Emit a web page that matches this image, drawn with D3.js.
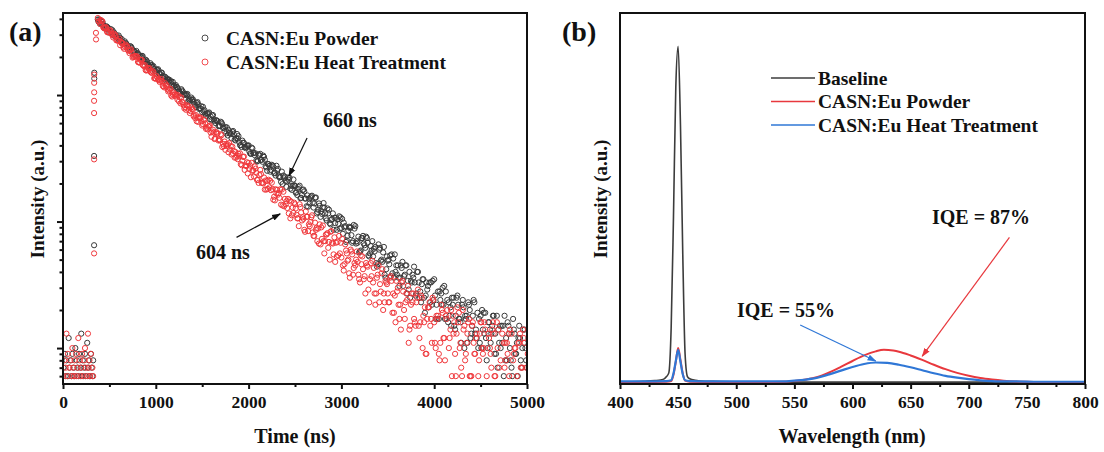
<!DOCTYPE html>
<html lang="en">
<head>
<meta charset="utf-8">
<script src="https://cdn.jsdelivr.net/npm/d3@7"></script>
<style>
  body { margin: 0; background: #fff; }
  text { font-family: "Liberation Serif", "Times New Roman", serif; font-weight: bold; fill: #111; }
</style>
</head>
<body>
<script>

// ---- panel (a): decay curves, counts per channel ----
var preStart = 5, preStep = 8;          // background channels before the pulse
var decayStart = 375, decayStep = 25;   // first decay channel and channel spacing (ns)
var passOffsets = [0, 8, 16];           // three interleaved channel sets

var powderPre = [7,5,9,6,8,4,6,12,7,5,8,6,9,3,7,6,10,5,8,7,6,9,5,7,13,6,8,4,7,9,6,5,11,7,8,6,5,9,7,6,8];
var heatPre   = [6,8,5,7,13,6,9,4,7,8,5,6,10,7,6,8,5,9,6,7,12,5,8,6,7,9,4,6,8,10,7,5,6,13,7,8,6,9,5,7,6];

// rising edge, [time ns, counts]
var powderRise = [[335,65],[335,330],[337,1500],[337,1350]];
var heatRise = [[335,56],[335,310],[336,1450],[336,1250],[336,1050],[335,900],[335,720],[355,3100],[356,2750]];

var powderDecay1 = [3952,3653,3774,3471,3460,3112,3162,3122,2863,2955,2687,2529,2576,2433,2431,2209,2189,
  2136,1975,2041,1878,1872,1684,1710,1689,1549,1599,1453,1368,1394,1318,1315,1195,1185,
  1159,1063,1111,1014,1021,897,927,924,832,879,784,732,759,712,728,636,642,
  632,568,615,548,558,479,505,511,445,492,423,388,418,387,400,342,349,
  346,302,343,297,308,252,276,281,241,276,228,206,231,210,223,182,191,
  191,162,192,162,173,132,152,158,129,155,124,109,129,116,127,97,105,
  107,86,110,89,98,69,85,90,70,92,68,58,74,65,74,53,59,
  61,47,66,49,57,36,49,54,39,55,38,31,43,37,45,29,34,
  36,26,40,28,35,19,29,33,22,35,22,17,27,22,28,16,21,
  22,14,26,17,22,10,18,22,13,24,14,10,18,14,19,10,14,
  15,9,18,11,15,6,12,15,8,17,9,6,12,10,14,7];
var powderDecay2 = [3796,3862,3607,3333,3415,3207,3252,2929,2921,2700,2766,2566,2543,2373,2413,2254,2082,
  2134,2004,2031,1831,1826,1687,1728,1604,1589,1484,1508,1409,1302,1334,1252,1271,1145,
  1144,1049,1085,1001,999,921,955,883,803,841,783,807,711,717,645,689,623,
  629,574,605,553,497,531,490,520,438,453,401,436,389,397,358,384,348,
  304,338,307,332,273,285,248,276,243,253,223,248,220,188,214,192,215,
  169,181,153,177,152,161,139,160,139,116,139,121,140,106,116,95,116,
  97,104,88,105,90,71,91,78,94,67,76,59,77,62,68,56,70,
  58,44,60,50,63,42,50,37,51,40,45,36,48,38,27,40,33,
  44,27,33,23,35,26,31,23,34,26,17,28,22,31,17,23,15,
  25,18,22,16,24,18,11,20,15,23,12,17,10,19,12,16,11,
  18,13,7,15,11,18,8,13,7,14,9,12,8,14,10,5];
var powderDecay3 = [3953,3658,3410,3495,3311,3319,2997,3006,2814,2830,2586,2656,2457,2291,2348,2225,2229,
  2013,2019,1890,1902,1737,1785,1651,1540,1578,1495,1498,1353,1358,1271,1278,1167,1199,
  1108,1027,1064,1005,1019,901,916,849,866,777,815,745,685,718,676,695,601,
  620,568,588,518,555,500,456,489,456,474,401,420,381,399,346,378,335,
  298,332,308,324,268,284,256,272,231,261,225,198,226,208,222,178,194,
  170,187,154,179,152,131,155,141,154,119,133,115,129,102,124,103,86,
  107,96,108,80,92,77,89,68,88,70,57,74,67,76,54,64,53,
  63,46,62,48,38,53,46,55,36,45,36,45,31,45,34,25,38,
  33,40,25,32,25,33,21,33,24,17,28,24,30,17,24,18,25,
  15,25,17,11,21,17,23,12,18,13,19,11,20,13,8,16,13,
  18,9,14,10,15,8,16,10,6,13,11,15,7,11,8,12];

var heatDecay1 = [4062,3643,3826,3396,3152,3253,3037,3054,2705,2693,2625,2380,2503,2256,2261,1976,2033,
  2013,1805,1896,1683,1562,1613,1505,1514,1341,1335,1301,1180,1241,1118,1126,973,1010,
  1007,891,955,832,765,807,746,765,656,663,652,574,634,552,568,468,505,
  510,437,490,411,369,408,371,391,320,331,329,279,326,274,290,224,254,
  262,214,256,203,179,209,186,203,157,167,168,136,172,137,151,106,129,
  137,106,137,102,86,109,95,108,77,86,88,66,93,70,81,50,68,
  75,53,77,52,41,59,50,60,38,45,48,33,53,37,45,23,37,
  43,27,45,28,20,34,27,36,19,26,28,17,33,20,27,11,22,
  27,15,29,16,10,21,17,23,11,16,18,9,22,12,18,5,14,
  18,9,21,10,6,15,11,17,6,11,12,6,16,9,14,3,10,
  14,6,16,7,4,11,8,13,5,8,10,4,13,7,11,2];
var heatDecay2 = [3824,3921,3436,3447,3124,3249,2961,2945,2704,2786,2560,2320,2414,2235,2293,2009,2015,
  1827,1899,1731,1722,1581,1630,1497,1357,1411,1307,1340,1174,1179,1068,1116,1009,1012,
  921,963,877,784,831,764,800,679,694,613,663,589,597,535,575,515,449,
  494,447,481,394,410,353,394,343,355,311,346,303,256,294,261,291,227,
  243,202,237,200,211,181,210,181,147,178,154,179,132,145,116,144,117,
  127,106,130,108,83,109,92,112,77,89,67,90,70,79,62,83,67,
  48,69,56,73,46,56,39,58,43,50,38,54,42,27,44,35,49,
  27,36,23,39,27,33,23,37,27,16,30,22,34,17,24,14,27,
  17,23,15,26,18,9,21,15,25,11,17,8,20,12,17,10,20,
  13,6,16,11,20,8,13,6,15,9,13,8,16,10,4,13,9,
  16,6,10,4,13,7,11,6,13,9,3,11,7,14,5,9];
var heatDecay3 = [3804,3841,3377,3415,3148,3193,2851,2974,2700,2476,2577,2415,2437,2144,2168,1998,2028,
  1810,1889,1715,1572,1637,1534,1548,1362,1376,1269,1288,1149,1200,1089,992,1045,975,
  994,859,878,802,825,721,774,689,620,668,620,641,540,562,505,532,453,
  500,438,388,429,395,417,339,361,320,343,284,324,278,240,277,252,273,
  213,233,202,223,179,214,177,149,180,163,180,134,151,128,147,112,141,
  113,92,118,105,120,84,99,82,98,70,95,73,56,79,69,84,55,
  68,54,68,45,66,49,36,55,47,58,35,46,35,47,29,47,33,
  22,38,32,42,23,32,23,34,19,34,22,14,28,23,31,15,23,
  16,25,12,25,16,9,21,17,24,10,18,11,19,8,20,12,6,
  16,13,19,7,14,9,16,6,16,9,4,13,10,16,6,12,7,
  13,5,14,8,3,11,9,14,5,10,6,11,4,12,7,2];

var timeTicks = [0,1000,2000,3000,4000,5000];

// ---- panel (b): PL spectra ----
var baselineWl = [400,410,420,430,435,438,440,442,444,446,448,450,452,454,456,458,460,465,470,480,500,550,600,650,700,750,800];
var baselineI  = [0.006,0.006,0.007,0.009,0.011,0.014,0.02,0.03,0.15,0.45,0.8,0.91,0.7,0.35,0.08,0.02,0.014,0.01,0.008,0.007,0.006,0.005,0.005,0.005,0.005,0.005,0.005];

var powderWl = [400,420,440,444,446,448,450,452,454,456,460,480,500,520,540,550,560,570,580,590,600,610,620,627,635,640,650,660,670,680,690,700,710,720,730,740,750,770,800];
var powderI  = [0.005,0.005,0.006,0.008,0.025,0.06,0.097,0.065,0.028,0.009,0.006,0.005,0.005,0.005,0.006,0.008,0.012,0.019,0.031,0.046,0.062,0.077,0.088,0.092,0.09,0.087,0.077,0.065,0.052,0.04,0.03,0.022,0.016,0.012,0.009,0.007,0.006,0.005,0.005];

var heatWl = [400,420,440,444,446,448,450,452,454,456,460,480,500,520,540,550,560,570,580,590,600,610,620,630,640,650,660,670,680,690,700,710,720,730,740,760,800];
var heatI  = [0.007,0.007,0.008,0.01,0.028,0.062,0.092,0.06,0.026,0.01,0.008,0.007,0.007,0.007,0.007,0.009,0.012,0.017,0.026,0.036,0.046,0.054,0.058,0.057,0.052,0.045,0.037,0.029,0.022,0.017,0.013,0.01,0.008,0.007,0.007,0.006,0.006];

var wlTicks = [400,450,500,550,600,650,700,750,800];

var width = 1104, height = 452;

var svg = d3.select("body").append("svg")
    .attr("width", width)
    .attr("height", height);

var defs = svg.append("defs");
function marker(id, color) {
  defs.append("marker")
      .attr("id", id)
      .attr("viewBox", "0 0 10 10")
      .attr("refX", 9).attr("refY", 5)
      .attr("markerWidth", 9).attr("markerHeight", 9)
      .attr("markerUnits", "userSpaceOnUse")
      .attr("orient", "auto")
    .append("path")
      .attr("d", "M0,1.5L10,5L0,8.5Z")
      .attr("fill", color);
}
marker("arrBlack", "#111");
marker("arrRed", "#e8383d");
marker("arrBlue", "#2f77d6");

// ================= panel (a) =================
var xA = d3.scaleLinear().domain([0, 5000]).range([63, 527]);
var yA = d3.scaleLog().domain([5.2, 4450]).range([384, 13]);

defs.append("clipPath").attr("id", "clipA")
  .append("rect").attr("x", 63).attr("y", 13).attr("width", 464).attr("height", 371);

function series(pre, rise, passes) {
  var pts = pre.map(function(v, i) { return [preStart + i * preStep, v]; }).concat(rise);
  passes.forEach(function(arr, k) {
    arr.forEach(function(v, i) { pts.push([decayStart + passOffsets[k] + i * decayStep, v]); });
  });
  return pts.filter(function(d) { return d[1] > 0; });
}

var gA = svg.append("g");
var dots = gA.append("g").attr("clip-path", "url(#clipA)");

dots.selectAll("circle.p")
    .data(series(powderPre, powderRise, [powderDecay1, powderDecay2, powderDecay3]))
  .enter().append("circle")
    .attr("class", "p")
    .attr("cx", function(d) { return xA(d[0]); })
    .attr("cy", function(d) { return yA(d[1]); })
    .attr("r", 2.6)
    .attr("fill", "none")
    .attr("stroke", "#3a3a3a")
    .attr("stroke-width", 1);

dots.selectAll("circle.h")
    .data(series(heatPre, heatRise, [heatDecay1, heatDecay2, heatDecay3]))
  .enter().append("circle")
    .attr("class", "h")
    .attr("cx", function(d) { return xA(d[0]); })
    .attr("cy", function(d) { return yA(d[1]); })
    .attr("r", 2.6)
    .attr("fill", "none")
    .attr("stroke", "#f0383c")
    .attr("stroke-width", 1);

// x axis
var axA = gA.append("g").attr("transform", "translate(0,384)");
axA.call(d3.axisBottom(xA).tickValues(timeTicks).tickSize(5).tickPadding(7).tickFormat(d3.format("d")));
axA.append("g").call(d3.axisBottom(xA).tickValues([500,1500,2500,3500,4500]).tickSize(3).tickFormat(""));
axA.selectAll("path").remove();
axA.selectAll("line").attr("stroke", "#111").attr("stroke-width", 2);
axA.selectAll("text").attr("font-size", 17.5).attr("fill", "#111")
   .style("font-family", "Liberation Serif").style("font-weight", "bold");

// log y axis, no labels
var yMajor = [10, 100, 1000];
var yMinor = [];
[1, 10, 100, 1000].forEach(function(dec) {
  for (var m = 2; m <= 9; m++) {
    var v = dec * m;
    if (v > 5.2 && v < 4450) yMinor.push(v);
  }
});
var ayA = gA.append("g").attr("transform", "translate(63,0)");
ayA.call(d3.axisLeft(yA).tickValues(yMajor).tickSize(6).tickFormat(""));
ayA.append("g").call(d3.axisLeft(yA).tickValues(yMinor).tickSize(3.5).tickFormat(""));
ayA.selectAll("path").remove();
ayA.selectAll("line").attr("stroke", "#111").attr("stroke-width", 2);

gA.append("rect")
    .attr("x", 63).attr("y", 13).attr("width", 464).attr("height", 371)
    .attr("fill", "none").attr("stroke", "#111").attr("stroke-width", 2);

gA.append("text").attr("x", 295).attr("y", 443).attr("text-anchor", "middle")
    .attr("font-size", 20).text("Time (ns)");
gA.append("text").attr("transform", "translate(44,199) rotate(-90)").attr("text-anchor", "middle")
    .attr("font-size", 19).text("Intensity (a.u.)");
gA.append("text").attr("x", 9).attr("y", 41).attr("font-size", 28).text("(a)");

// legend (a)
var legA = gA.append("g");
[["CASN:Eu Powder", "#3a3a3a", 38], ["CASN:Eu Heat Treatment", "#f0383c", 62]].forEach(function(d) {
  legA.append("circle").attr("cx", 205).attr("cy", d[2]).attr("r", 3)
      .attr("fill", "none").attr("stroke", d[1]).attr("stroke-width", 0.9);
  legA.append("text").attr("x", 226).attr("y", d[2] + 6.5).attr("font-size", 19.5).text(d[0]);
});

// lifetime annotations
gA.append("text").attr("x", 323).attr("y", 127).attr("font-size", 20).text("660 ns");
gA.append("line")
    .attr("x1", xA(2630)).attr("y1", yA(458)).attr("x2", xA(2435)).attr("y2", yA(229))
    .attr("stroke", "#111").attr("stroke-width", 1.2).attr("marker-end", "url(#arrBlack)");
gA.append("text").attr("x", 196).attr("y", 259).attr("font-size", 20).text("604 ns");
gA.append("line")
    .attr("x1", xA(1870)).attr("y1", yA(75)).attr("x2", xA(2340)).attr("y2", yA(115))
    .attr("stroke", "#111").attr("stroke-width", 1.2).attr("marker-end", "url(#arrBlack)");

// ================= panel (b) =================
var xB = d3.scaleLinear().domain([400, 800]).range([620, 1085]);
var yB = d3.scaleLinear().domain([0, 1]).range([384, 13]);

var gB = svg.append("g");

var line = d3.line()
    .x(function(d) { return xB(d[0]); })
    .y(function(d) { return yB(d[1]); })
    .curve(d3.curveMonotoneX);

function pairs(wl, vals) { return wl.map(function(w, i) { return [w, vals[i]]; }); }

var specs = [
  { name: "Baseline", wl: baselineWl, v: baselineI, color: "#3c3c3c", w: 1.6 },
  { name: "CASN:Eu Powder", wl: powderWl, v: powderI, color: "#e8383d", w: 2 },
  { name: "CASN:Eu Heat Treatment", wl: heatWl, v: heatI, color: "#2f77d6", w: 2.2 }
];

gB.selectAll("path.spec")
    .data(specs)
  .enter().append("path")
    .attr("class", "spec")
    .attr("d", function(d) { return line(pairs(d.wl, d.v)); })
    .attr("fill", "none")
    .attr("stroke", function(d) { return d.color; })
    .attr("stroke-width", function(d) { return d.w; })
    .attr("stroke-linejoin", "round");

var axB = gB.append("g").attr("transform", "translate(0,384)");
axB.call(d3.axisBottom(xB).tickValues(wlTicks).tickSize(5).tickPadding(7).tickFormat(d3.format("d")));
axB.append("g").call(d3.axisBottom(xB).tickValues([425,475,525,575,625,675,725,775]).tickSize(3).tickFormat(""));
axB.selectAll("path").remove();
axB.selectAll("line").attr("stroke", "#111").attr("stroke-width", 2);
axB.selectAll("text").attr("font-size", 17.5).attr("fill", "#111")
   .style("font-family", "Liberation Serif").style("font-weight", "bold");

gB.append("rect")
    .attr("x", 620).attr("y", 13).attr("width", 465).attr("height", 371)
    .attr("fill", "none").attr("stroke", "#111").attr("stroke-width", 2);

gB.append("text").attr("x", 852).attr("y", 443).attr("text-anchor", "middle")
    .attr("font-size", 20).text("Wavelength (nm)");
gB.append("text").attr("transform", "translate(607,199) rotate(-90)").attr("text-anchor", "middle")
    .attr("font-size", 19).text("Intensity (a.u.)");
gB.append("text").attr("x", 562).attr("y", 41).attr("font-size", 28).text("(b)");

// legend (b)
specs.forEach(function(d, i) {
  var y = 78 + i * 23.5;
  gB.append("line").attr("x1", 771).attr("x2", 815).attr("y1", y).attr("y2", y)
      .attr("stroke", d.color).attr("stroke-width", 1.6);
  gB.append("text").attr("x", 818).attr("y", y + 6.5).attr("font-size", 19.5).text(d.name);
});

// IQE annotations
gB.append("text").attr("x", 932).attr("y", 224).attr("font-size", 20).text("IQE = 87%");
gB.append("line")
    .attr("x1", xB(735)).attr("y1", yB(0.395)).attr("x2", xB(660)).attr("y2", yB(0.075))
    .attr("stroke", "#e8383d").attr("stroke-width", 1.2).attr("marker-end", "url(#arrRed)");
gB.append("text").attr("x", 737).attr("y", 317).attr("font-size", 20).text("IQE = 55%");
gB.append("line")
    .attr("x1", xB(555)).attr("y1", yB(0.159)).attr("x2", xB(620)).attr("y2", yB(0.062))
    .attr("stroke", "#2f77d6").attr("stroke-width", 1.2).attr("marker-end", "url(#arrBlue)");

</script>
</body>
</html>
